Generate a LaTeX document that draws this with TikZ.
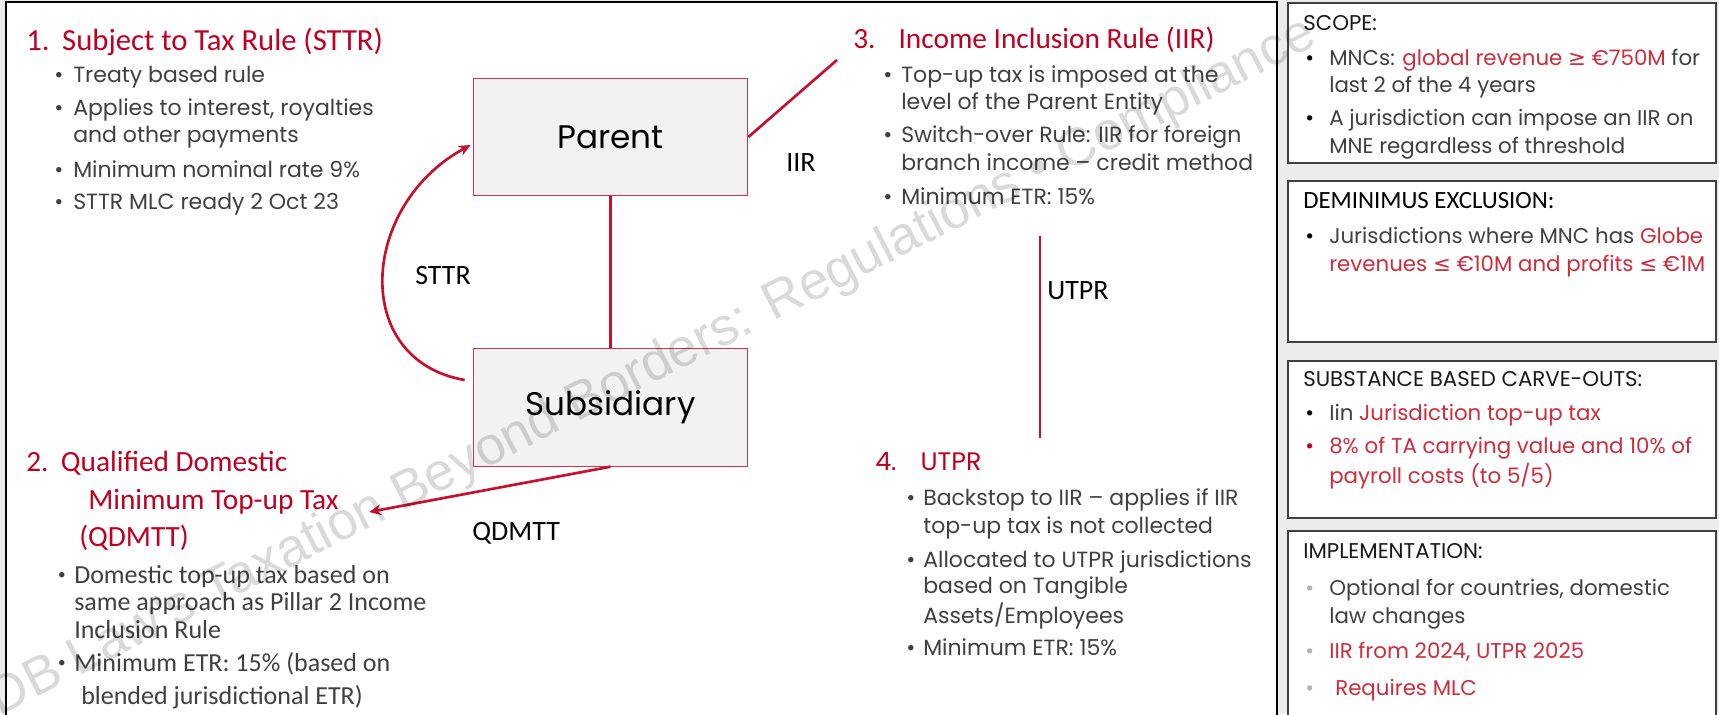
\documentclass[tikz,border=0pt]{standalone}
\usepackage{fontspec}
\setmainfont{Poppins}
\newfontfamily\twfont{Carlito}
\newfontfamily\symfont{DejaVu Sans}
\newfontfamily\markfont{Liberation Sans}
\usetikzlibrary{positioning, arrows.meta, calc}

\definecolor{pillarred}{RGB}{200,16,46}
\definecolor{headred}{RGB}{192,0,32}
\definecolor{notered}{RGB}{205,45,60}
\definecolor{bodygrey}{RGB}{64,64,64}
\definecolor{pagegrey}{RGB}{236,236,236}
\definecolor{boxfill}{RGB}{242,242,242}

\tikzset{
    entitybox/.style={draw=pillarred!85, fill=boxfill, line width=0.8pt, minimum width=206pt, minimum height=88pt, font=\fontsize{24.5}{29}\selectfont},
    panelbox/.style={draw=black!75, fill=white, line width=1pt, anchor=north west, inner sep=0pt, outer sep=0pt, minimum width=321pt},
    note/.style={inner sep=0pt, anchor=west, text=bodygrey, font=\fontsize{16.5}{20}\selectfont, execute at begin node=\strut},
    sidenote/.style={note, font=\fontsize{16}{20}\selectfont},
    twnote/.style={note, font=\twfont\fontsize{19.5}{23}\selectfont},
    rulehead/.style={note, text=headred, font=\twfont\fontsize{22}{26}\selectfont},
    boxhead/.style={note, text=black!90, font=\fontsize{16}{19}\selectfont},
    flowlabel/.style={note, text=black, font=\twfont\fontsize{21}{25}\selectfont},
    flow/.style={draw=pillarred, line width=2pt},
    watermark/.style={inner sep=0pt, rotate=27, text=black, opacity=0.15, font=\markfont\fontsize{40}{48}\selectfont},
}
\newcommand{\geqsym}{{\symfont ≥}}
\newcommand{\leqsym}{{\symfont ≤}}

\begin{document}
\begin{tikzpicture}[x=0.75pt, y=-0.75pt, >={Stealth[length=9pt, width=8pt]}]
\useasboundingbox (0,0) rectangle (1719,714);
\fill[pagegrey] (0,0) rectangle (1719,714);
\draw[fill=white, line width=1.2pt] (6,716) |- (1277,2) -- (1277,716);

% side panels
\node[panelbox, minimum height=120pt] (scope) at (1288,3) {};
\node[panelbox, minimum height=120.75pt] (deminimus) at (1288,181) {};
\node[panelbox, minimum height=117.75pt] (carveouts) at (1288,361) {};
\node[panelbox, minimum height=145pt] (implement) at (1288,531) {};

% group structure
\node[entitybox] (parent) at (610.5,137) {Parent};
\node[entitybox] (sub) at (610.5,407.5) {Subsidiary};

\coordinate (iirend) at (837,60);
\coordinate (utprtop) at (1040,236);
\coordinate (utprbot) at (1040,438);
\coordinate (qdmttend) at (369,512);

\draw[flow] (parent) -- (sub);
\draw[flow] (parent.east) -- (iirend);
\draw[flow] (utprtop) -- (utprbot);
\draw[flow, ->] (sub.south) -- (qdmttend);
\draw[flow, ->] ([shift={(-8,-27.5)}]sub.west) .. controls (350,360) and (360,205) .. ([shift={(-2,8)}]parent.west);

\node[flowlabel] (sttrlab) at (415,278) {STTR};
\node[flowlabel] (iirlab) at (786,165) {IIR};
\node[flowlabel] (utprlab) at (1047,293) {UTPR};
\node[flowlabel] (qdmttlab) at (472,534) {QDMTT};

% 1. STTR
\node[rulehead, font=\twfont\fontsize{23}{27}\selectfont] (sttrhead) at (26,43) {\makebox[27pt][l]{1.}Subject to Tax Rule (STTR)};
\foreach \yy in {77,110,172,204}
    \node[note] (sttrdot\yy) at (54,\yy) {\textbullet};
\foreach \yy/\tx in {77/Treaty based rule, 110/{Applies to interest, royalties}, 137/and other payments, 172/Minimum nominal rate 9\%, 204/STTR MLC ready 2 Oct 23}
    \node[note] (sttr\yy) at (73,\yy) {\tx};

% 2. QDMTT
\node[rulehead] (qdmtthead) at (26,465) {\makebox[26pt][l]{2.}Qualified Domestic};
\node[rulehead] (qdmtthead2) at (88,503) {Minimum Top-up Tax};
\node[rulehead] (qdmtthead3) at (79,540) {(QDMTT)};
\foreach \yy in {577,665}
    \node[note] (qdmttdot\yy) at (57,\yy) {\textbullet};
\foreach \yy/\tx in {577/Domestic top-up tax based on, 604/same approach as Pillar 2 Income, 632/Inclusion Rule, 665/Minimum ETR: 15\% (based on}
    \node[twnote] (qdmtt\yy) at (74,\yy) {\tx};
\node[twnote] (qdmtt698) at (81,698) {blended jurisdictional ETR)};

% 3. IIR
\node[rulehead] (iirhead) at (853,42) {\makebox[34pt][l]{3.}Income Inclusion Rule (IIR)};
\foreach \yy in {77,137,199}
    \node[note] (iirdot\yy) at (883,\yy) {\textbullet};
\foreach \yy/\tx in {77/Top-up tax is imposed at the, 104/level of the Parent Entity, 137/Switch-over Rule: IIR for foreign, 165/branch income – credit method, 199/Minimum ETR: 15\%}
    \node[note] (iir\yy) at (901,\yy) {\tx};

% 4. UTPR
\node[note, text=headred, font=\fontsize{19}{23}\selectfont] (utprhead) at (875,464) {\makebox[34pt][l]{4.}UTPR};
\foreach \yy in {500,562,650}
    \node[note] (utprdot\yy) at (906,\yy) {\textbullet};
\foreach \yy/\tx in {500/Backstop to IIR – applies if IIR, 528/top-up tax is not collected, 562/Allocated to UTPR jurisdictions, 588/based on Tangible, 617/{Assets/Employees}, 650/Minimum ETR: 15\%}
    \node[note] (utpr\yy) at (923,\yy) {\tx};

% scope
\node[boxhead] (scopehead) at (1303,25) {SCOPE:};
\foreach \yy in {60,120}
    \node[sidenote, text=black] (scopedot\yy) at (1305,\yy) {\textbullet};
\node[sidenote] (scope60) at (1329,60) {MNCs: {\color{notered}global revenue \geqsym{} €750M} for};
\node[sidenote] (scope87) at (1329,87) {last 2 of the 4 years};
\node[sidenote] (scope120) at (1329,120) {A jurisdiction can impose an IIR on};
\node[sidenote] (scope148) at (1329,148) {MNE regardless of threshold};

% deminimus
\node[note, text=black, font=\twfont\fontsize{18.6}{22}\selectfont] (deminhead) at (1303,203) {DEMINIMUS EXCLUSION:};
\node[sidenote, text=black] (demindot) at (1305,238) {\textbullet};
\node[sidenote] (demin238) at (1329,238) {Jurisdictions where MNC has {\color{notered}Globe}};
\node[sidenote, text=notered] (demin266) at (1329,266) {revenues \leqsym{} €10M and profits \leqsym{} €1M};

% carve-outs
\node[boxhead] (carvehead) at (1303,381) {SUBSTANCE BASED CARVE-OUTS:};
\node[sidenote, text=black] (carvedot415) at (1305,415) {\textbullet};
\node[sidenote, text=headred] (carvedot448) at (1305,448) {\textbullet};
\node[sidenote] (carve415) at (1329,415) {Iin {\color{notered}Jurisdiction top-up tax}};
\node[sidenote, text=notered] (carve448) at (1329,448) {8\% of TA carrying value and 10\% of};
\node[sidenote, text=notered] (carve477) at (1329,477) {payroll costs (to 5/5)};

% implementation
\node[boxhead] (implhead) at (1303,553) {IMPLEMENTATION:};
\foreach \yy in {590,653,690}
    \node[sidenote, text=black!30] (impldot\yy) at (1305,\yy) {\textbullet};
\node[sidenote] (impl590) at (1329,590) {Optional for countries, domestic};
\node[sidenote] (impl618) at (1329,618) {law changes};
\node[sidenote, text=notered] (impl653) at (1329,653) {IIR from 2024, UTPR 2025};
\node[sidenote, text=notered] (impl690) at (1335,690) {Requires MLC};

\node[watermark] (mark) at (653,368) {DB Law's Taxation Beyond Borders: Regulations • Compliance};
\end{tikzpicture}
\end{document}
